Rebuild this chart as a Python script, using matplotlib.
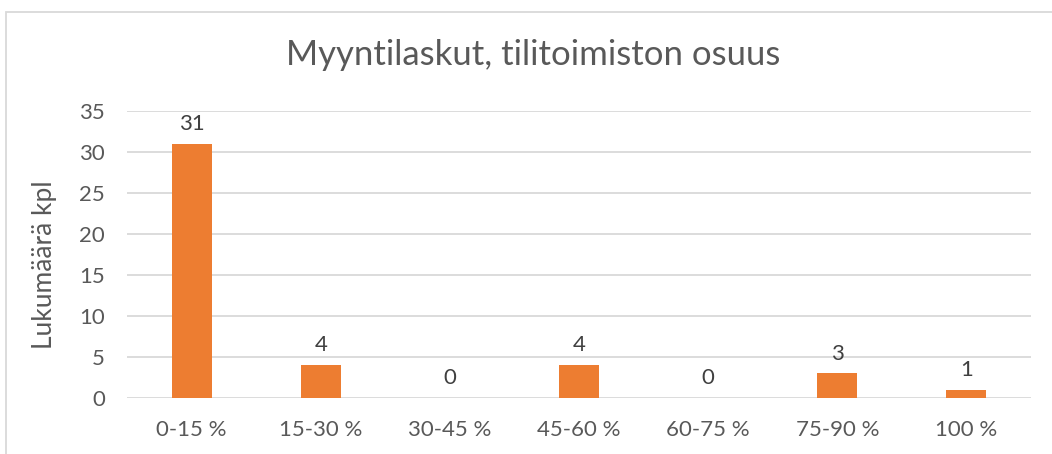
import matplotlib.pyplot as plt
from matplotlib.patches import Rectangle

# Data
categories = ["0-15 %", "15-30 %", "30-45 %", "45-60 %", "60-75 %", "75-90 %", "100 %"]
counts = [31, 4, 0, 4, 0, 3, 1]
yticks = [0, 5, 10, 15, 20, 25, 30, 35]

text_color = "#595959"
bar_color = "#ED7D31"
grid_color = "#D9D9D9"

plt.rcParams['font.family'] = ['Lato', 'DejaVu Sans']

fig = plt.figure(figsize=(10.52, 4.54), dpi=100)
ax = fig.add_axes([127 / 1052, 1 - 398 / 454, (1031 - 127) / 1052, (398 - 111) / 454])

x = range(len(categories))
bars = ax.bar(x, counts, width=0.31, color=bar_color, zorder=3)

# data labels
for xi, v in zip(x, counts):
    ax.annotate(str(v), (xi, v), xytext=(0, 7), textcoords="offset points",
                ha="center", va="bottom", fontsize=16, color="#404040")

ax.set_xlim(-0.5, len(categories) - 0.5)
ax.set_ylim(0, 35)
ax.set_yticks(yticks)
ax.set_xticks(list(x))
ax.set_xticklabels(categories)
ax.tick_params(axis="both", length=0, labelsize=16, labelcolor=text_color)
ax.tick_params(axis="x", pad=16)
ax.tick_params(axis="y", pad=16)
ax.yaxis.grid(True, color=grid_color, linewidth=1.3, zorder=0)
for s in ax.spines.values():
    s.set_visible(False)

fig.text(45 / 1052, 1 - 265 / 454, "Lukumäärä kpl", rotation=90,
         ha="center", va="center", fontsize=19, color=text_color)

fig.text(533 / 1052, 1 - 55 / 454, "Myyntilaskut, tilitoimiston osuus",
         ha="center", va="center", fontsize=25, color=text_color)

# chart border
fig.patches.append(Rectangle((6 / 1052, -0.1), 1.2, 1.1 - 12 / 454, transform=fig.transFigure,
                             fill=False, edgecolor=grid_color, linewidth=1.3))

fig.savefig("out.png", dpi=100)
